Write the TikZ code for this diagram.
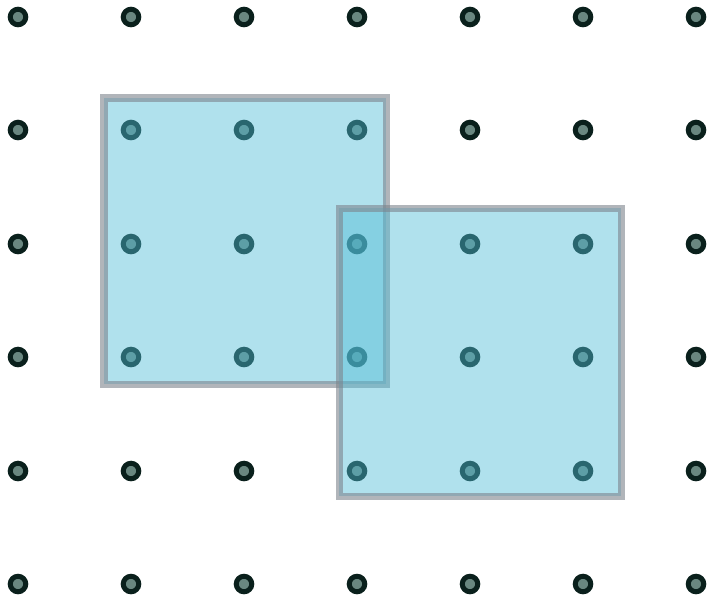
\documentclass[tikz,border=0pt]{standalone}
\begin{document}
\begin{tikzpicture}[x=0.01cm,y=-0.01cm,
  dotnode/.style={circle,inner sep=0pt,minimum size=0.155cm,fill=dotcenter,draw=dotring,line width=0.05cm},
  sqbox/.style={fill=sqfill,fill opacity=0.45,draw=sqedge,draw opacity=0.6,line width=0.07cm}]
\definecolor{dotring}{RGB}{10,32,28}
\definecolor{dotcenter}{RGB}{105,135,128}
\definecolor{sqfill}{RGB}{80,188,214}
\definecolor{sqedge}{RGB}{125,132,140}
\useasboundingbox (0,0) rectangle (709,600);
\foreach \i/\x in {0/18,1/131,2/244,3/357,4/470,5/583,6/696}{
  \foreach \j/\y in {0/17,1/130,2/244,3/357,4/471,5/584}{
    \node[dotnode] (d-\i-\j) at (\x,\y) {};
  }
}
\draw[sqbox] (104,98) rectangle (386,384);
\draw[sqbox] (339,208) rectangle (621,496);
\end{tikzpicture}
\end{document}
